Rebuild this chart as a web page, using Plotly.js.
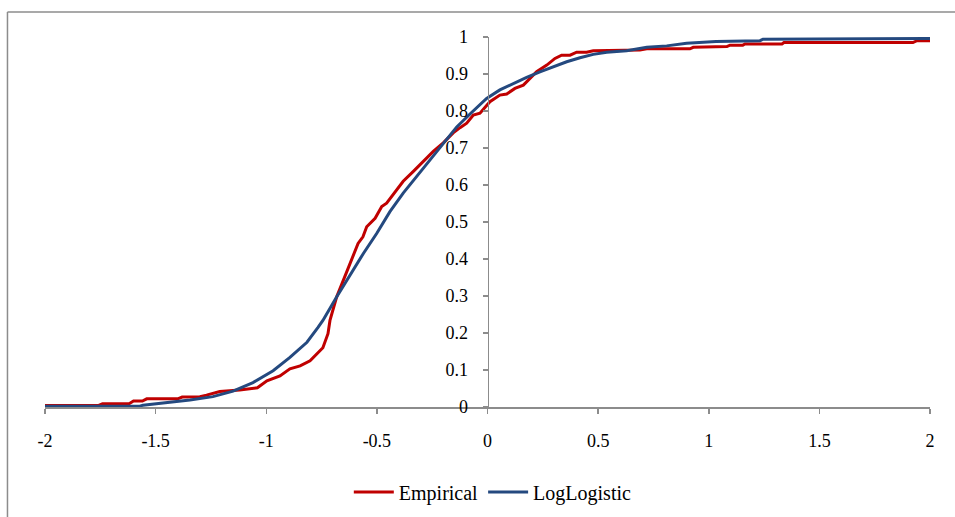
<!DOCTYPE html>
<html>
<head>
<meta charset="utf-8">
<script src="https://cdn.plot.ly/plotly-3.0.1.min.js"></script>
<style>
  html, body { margin: 0; padding: 0; background: #ffffff; }
  #chart { width: 955px; height: 517px; }
</style>
</head>
<body>
<div id="chart"></div>
<script>
// Empirical CDF
const empX = [-2.00, -1.76, -1.74, -1.62, -1.60, -1.56, -1.54, -1.40, -1.38, -1.30, -1.27, -1.21,
  -1.12, -1.04, -0.997, -0.938, -0.893, -0.847, -0.802, -0.771, -0.744, -0.721, -0.712, -0.682,
  -0.652, -0.621, -0.585, -0.563, -0.546, -0.508, -0.478, -0.456, -0.410, -0.381, -0.335, -0.290,
  -0.245, -0.200, -0.155, -0.124, -0.094, -0.064, -0.034, 0.011, 0.056, 0.087, 0.124, 0.162,
  0.192, 0.222, 0.268, 0.305, 0.335, 0.373, 0.403, 0.448, 0.478, 0.689, 0.720, 0.915, 0.930,
  1.082, 1.096, 1.154, 1.164, 1.331, 1.340, 1.923, 1.941, 2.00];
const empY = [0.004, 0.004, 0.009, 0.009, 0.016, 0.016, 0.022, 0.022, 0.027, 0.028, 0.032, 0.042,
  0.046, 0.052, 0.071, 0.084, 0.103, 0.111, 0.125, 0.144, 0.160, 0.198, 0.234, 0.297,
  0.342, 0.388, 0.442, 0.460, 0.487, 0.510, 0.542, 0.551, 0.587, 0.610, 0.637, 0.664,
  0.691, 0.714, 0.741, 0.755, 0.767, 0.789, 0.794, 0.825, 0.843, 0.846, 0.861, 0.870,
  0.888, 0.906, 0.924, 0.942, 0.951, 0.951, 0.959, 0.959, 0.963, 0.965, 0.968, 0.968, 0.972,
  0.974, 0.978, 0.978, 0.981, 0.981, 0.985, 0.985, 0.990, 0.990];

// Fitted LogLogistic CDF
const llX = [-2.00, -1.571, -1.557, -1.435, -1.345, -1.241, -1.150, -1.060, -0.969, -0.893, -0.816,
  -0.766, -0.744, -0.682, -0.621, -0.561, -0.501, -0.441, -0.381, -0.320, -0.260, -0.200,
  -0.139, -0.079, -0.004, 0.056, 0.117, 0.177, 0.237, 0.297, 0.358, 0.418, 0.478, 0.539,
  0.629, 0.720, 0.810, 0.900, 0.960, 1.033, 1.232, 1.245, 2.00];
const llY = [0.002, 0.002, 0.005, 0.012, 0.019, 0.028, 0.043, 0.066, 0.098, 0.134, 0.175,
  0.215, 0.234, 0.297, 0.356, 0.415, 0.469, 0.528, 0.578, 0.623, 0.668, 0.714,
  0.757, 0.792, 0.834, 0.857, 0.875, 0.891, 0.906, 0.920, 0.933, 0.944, 0.953, 0.959,
  0.963, 0.972, 0.976, 0.983, 0.985, 0.988, 0.990, 0.994, 0.996];

const xTicks = [-2, -1.5, -1, -0.5, 0, 0.5, 1, 1.5, 2];
const yTicks = [0, 0.1, 0.2, 0.3, 0.4, 0.5, 0.6, 0.7, 0.8, 0.9, 1];

const font = { family: 'Liberation Serif, Times New Roman, serif', size: 18, color: '#000000' };
const legendFont = { family: 'Liberation Serif, Times New Roman, serif', size: 20, color: '#000000' };
const axisGray = '#8c8c8c';

const traces = [
  { x: empX, y: empY, mode: 'lines', name: 'Empirical',
    line: { color: '#C00000', width: 3 } },
  { x: llX, y: llY, mode: 'lines', name: 'LogLogistic',
    line: { color: '#24497F', width: 3 } }
];

const layout = {
  width: 955, height: 517,
  margin: { l: 45, r: 25, t: 37, b: 110, autoexpand: false },
  paper_bgcolor: '#ffffff', plot_bgcolor: '#ffffff',
  font: font,
  showlegend: true,
  legend: { orientation: 'h', x: 0.506, xanchor: 'center', y: -0.23, yanchor: 'middle',
            font: legendFont, bgcolor: 'rgba(0,0,0,0)', itemwidth: 40 },
  xaxis: {
    range: [-2, 2], tickvals: xTicks, ticktext: xTicks.map(String), automargin: false,
    showgrid: false, zeroline: false, showline: true, linecolor: axisGray, linewidth: 1.5,
    ticks: 'outside', ticklen: 5, tickcolor: axisGray, tickwidth: 1.5,
    ticklabelstandoff: 12, tickfont: font
  },
  yaxis: {
    range: [0, 1], tickvals: yTicks, ticktext: yTicks.map(String), automargin: false,
    anchor: 'free', position: 0.5, side: 'left',
    showgrid: false, zeroline: false, showline: true, linecolor: axisGray, linewidth: 1.5,
    ticks: 'outside', ticklen: 5, tickcolor: axisGray, tickwidth: 1.5,
    ticklabelstandoff: 11, tickfont: font
  },
  shapes: [
    { type: 'line', xref: 'paper', yref: 'paper', x0: -0.0424, x1: -0.0424, y0: 1.0676, y1: -0.5,
      line: { color: '#8c8c8c', width: 1.5 } },
    { type: 'line', xref: 'paper', yref: 'paper', x0: -0.0424, x1: 1.2, y0: 1.0676, y1: 1.0676,
      line: { color: '#8c8c8c', width: 1.5 } }
  ]
};

Plotly.newPlot('chart', traces, layout, { displayModeBar: false, staticPlot: true });
</script>
</body>
</html>
